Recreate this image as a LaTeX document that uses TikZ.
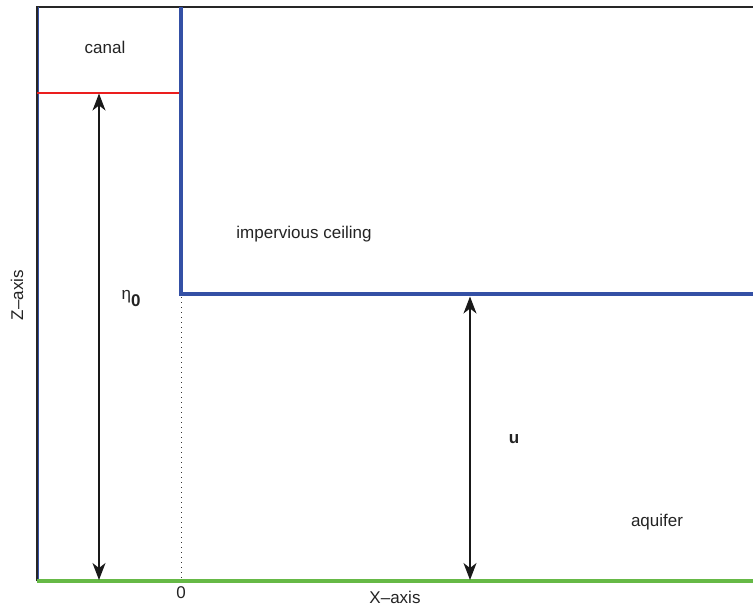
\documentclass[tikz,border=0pt]{standalone}
\usepackage{fontspec}
\setmainfont{Liberation Sans}
\usetikzlibrary{arrows.meta}
\definecolor{wallblue}{RGB}{52,80,165}
\definecolor{groundgreen}{RGB}{102,185,70}
\definecolor{txt}{RGB}{35,35,35}
\definecolor{levelred}{RGB}{235,30,30}
\tikzset{
  lbl/.style={text=txt, font=\fontsize{17}{20}\selectfont, inner sep=0pt},
  wall/.style={draw=wallblue, line width=4pt},
  ground/.style={draw=groundgreen, line width=4pt},
  frame/.style={draw=black!85, line width=1.3pt},
  dimarrow/.style={draw=black!90, line width=1.3pt, >={Stealth[length=17pt,width=13pt,inset=5pt]}, <->},
  zero/.style={draw=black!80, line width=1pt, dash pattern=on 1pt off 4pt}
}
\begin{document}
\begin{tikzpicture}[x=1pt,y=-1pt]
\useasboundingbox (0,0) rectangle (753,608);
% coordinates
\coordinate (TL) at (37,7);
\coordinate (TR) at (753,7);
\coordinate (BL) at (37,581);
\coordinate (BR) at (753,581);
\coordinate (WT) at (181,7);
\coordinate (WC) at (181,294);
\coordinate (CR) at (753,294);
\coordinate (RL) at (37,93);
\coordinate (RR) at (181,93);
\coordinate (ZT) at (181,297);
\coordinate (ZB) at (181,581);
\coordinate (A1t) at (99,93.5);
\coordinate (A1b) at (99,580);
\coordinate (A2t) at (470,296.5);
\coordinate (A2b) at (470,580);
\coordinate (BLt) at (38.8,7);
\coordinate (BLb) at (38.8,581);
% frame
\draw[frame] (BL) -- (TL) -- (TR);
\draw[draw=wallblue, line width=1pt] (BLt) -- (BLb);
% red water level
\draw[draw=levelred, line width=1.1pt] (RL) -- (RR);
% dotted zero line
\draw[zero] (ZT) -- (ZB);
% walls
\draw[wall] (WT) -- (WC) -- (CR);
% ground
\draw[ground] (BL) -- (BR);
% arrows
\draw[dimarrow] (A1t) -- (A1b);
\draw[dimarrow] (A2t) -- (A2b);
% labels
\node[lbl] (canal) at (105,47) {canal};
\node[lbl] (ceil) at (304,234) {impervious ceiling};
\node[lbl] (eta) at (131,299) {η\raisebox{-7pt}{\textbf{0}}};
\node[lbl, font=\fontsize{17}{20}\selectfont\bfseries] (u) at (514,439) {u};
\node[lbl] (aq) at (657,522) {aquifer};
\node[lbl] (zero) at (181,593) {0};
\node[lbl] (xax) at (395,597) {X–axis};
\node[lbl, rotate=90] (zax) at (17,295) {Z–axis};
\end{tikzpicture}
\end{document}
